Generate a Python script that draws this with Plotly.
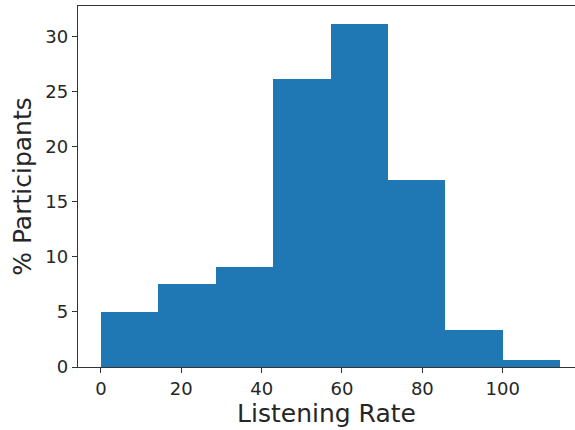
import plotly.graph_objects as go

bin_edges = [0, 14.29, 28.57, 42.86, 57.14, 71.43, 85.71, 100.0, 114.29]
percent = [5.0, 7.58, 9.06, 26.15, 31.2, 17.0, 3.33, 0.67]
x_ticks = [0, 20, 40, 60, 80, 100]
y_ticks = [0, 5, 10, 15, 20, 25, 30]

centers = [(bin_edges[i] + bin_edges[i + 1]) / 2 for i in range(len(percent))]
widths = [bin_edges[i + 1] - bin_edges[i] for i in range(len(percent))]

fig = go.Figure(go.Bar(
    x=centers, y=percent, width=widths,
    marker=dict(color="#1f77b4", line=dict(width=0)),
))

font = "DejaVu Sans"
fig.update_layout(
    width=575, height=430,
    margin=dict(l=78, r=0, t=6, b=63),
    plot_bgcolor="white", paper_bgcolor="white",
    showlegend=False, bargap=0,
    font=dict(family=font, color="#262626"),
)
fig.update_xaxes(
    range=[-5.71, 118.0], tickvals=x_ticks, showgrid=False, zeroline=False,
    showline=True, linecolor="#333333", linewidth=1.3, mirror=True,
    ticks="outside", ticklen=5, tickcolor="#333333",
    tickfont=dict(size=18, family=font),
    title=dict(text="Listening Rate", font=dict(size=25, family=font), standoff=4),
)
fig.update_yaxes(
    range=[0, 32.8], tickvals=y_ticks, showgrid=False, zeroline=False,
    showline=True, linecolor="#333333", linewidth=1.3,
    ticks="outside", ticklen=5, tickcolor="#333333",
    tickfont=dict(size=18, family=font),
    title=dict(text="% Participants", font=dict(size=25, family=font), standoff=6),
)

fig.write_html("out.html")
